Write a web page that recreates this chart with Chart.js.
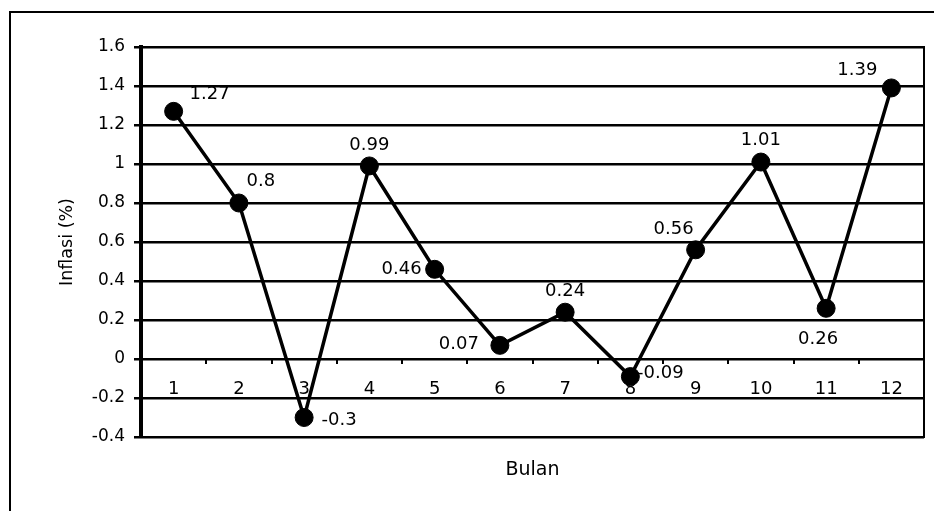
<!DOCTYPE html>
<html>
<head>
<meta charset="utf-8">
<script src="https://cdn.jsdelivr.net/npm/chart.js@4/dist/chart.umd.min.js"></script>
<style>
  html, body { margin: 0; padding: 0; background: #fff; overflow: hidden; }
  #wrap { position: relative; width: 934px; height: 511px; }
  #frame { position: absolute; left: 9px; top: 11px; width: 980px; height: 560px;
           border: 2px solid #000; box-sizing: border-box; }
  canvas { position: absolute; left: 0; top: 0; }
</style>
</head>
<body>
<div id="wrap">
  <div id="frame"></div>
  <canvas id="c" width="934" height="511"></canvas>
</div>
<script>
// Monthly inflation (%)
const months = ['1', '2', '3', '4', '5', '6', '7', '8', '9', '10', '11', '12'];
const inflation = [1.27, 0.8, -0.3, 0.99, 0.46, 0.07, 0.24, -0.09, 0.56, 1.01, 0.26, 1.39];
const yMin = -0.4;
const yMax = 1.6;
const yStep = 0.2;

// Where each value label sits relative to its point (px)
const labelOffsets = [
  [36, -17], [22, -22], [35, 3], [0, -21], [-33, 0], [-41, -1],
  [0, -21], [30, -3], [-22, -20], [0, -22], [-8, 31], [-34, -18]
];

const FONT = "'DejaVu Sans', 'Liberation Sans', Arial, sans-serif";

const valueLabels = {
  id: 'valueLabels',
  afterDatasetsDraw(chart) {
    const ctx = chart.ctx;
    const meta = chart.getDatasetMeta(0);
    ctx.save();
    ctx.fillStyle = '#000';
    ctx.font = '18px ' + FONT;
    ctx.textAlign = 'center';
    ctx.textBaseline = 'middle';
    meta.data.forEach((pt, i) => {
      const [dx, dy] = labelOffsets[i];
      ctx.fillText(String(inflation[i]), pt.x + dx, pt.y + dy);
    });
    ctx.restore();
  }
};

new Chart(document.getElementById('c'), {
  type: 'line',
  data: {
    labels: months,
    datasets: [{
      data: inflation,
      xAxisID: 'x',
      yAxisID: 'y',
      borderColor: '#000',
      borderWidth: 3.5,
      backgroundColor: '#000',
      pointRadius: 9,
      pointBackgroundColor: '#000',
      pointBorderColor: '#000',
      pointBorderWidth: 1,
      tension: 0,
      fill: false
    }]
  },
  options: {
    responsive: false,
    animation: false,
    devicePixelRatio: 1,
    layout: { padding: { top: 47, right: 7, left: 0, bottom: 0 } },
    plugins: { legend: { display: false }, tooltip: { enabled: false } },
    scales: {
      x: {
        type: 'category',
        position: 'bottom',
        offset: true,
        grid: { display: false, drawTicks: false },
        border: { display: false },
        ticks: { display: false },
        title: {
          display: true, text: 'Bulan', color: '#000',
          font: { family: FONT, size: 19 },
          padding: { top: 4, bottom: 30 }
        },
        afterFit: s => { s.height = 74; }
      },
      xz: {
        type: 'category',
        axis: 'x',
        labels: months,
        position: { y: 0 },
        offset: true,
        grid: { drawOnChartArea: false, offset: true, color: '#000', lineWidth: 2, tickLength: 5 },
        border: { display: false },
        ticks: { color: '#000', font: { family: FONT, size: 18 }, padding: 15, maxRotation: 0, autoSkip: false },
        afterFit: s => { s.height = 0; }
      },
      y: {
        min: yMin,
        max: yMax,
        ticks: {
          stepSize: yStep,
          color: '#000',
          font: { family: FONT, size: 17 },
          padding: 9,
          callback: v => String(Math.round(v * 10) / 10)
        },
        grid: { color: '#000', lineWidth: 2.5, tickLength: 7 },
        border: { color: '#000', width: 4 },
        title: {
          display: true, text: 'Inflasi (%)', color: '#000',
          font: { family: FONT, size: 17.5 },
          padding: { top: 57, bottom: 0 }
        },
        afterFit: s => { s.width = 141; }
      },
      yr: {
        axis: 'y',
        position: 'right',
        min: yMin,
        max: yMax,
        ticks: { display: false },
        grid: { display: false, drawTicks: false },
        border: { display: true, color: '#000', width: 2 },
        afterFit: s => { s.width = 0; }
      }
    }
  },
  plugins: [valueLabels]
});
</script>
</body>
</html>
